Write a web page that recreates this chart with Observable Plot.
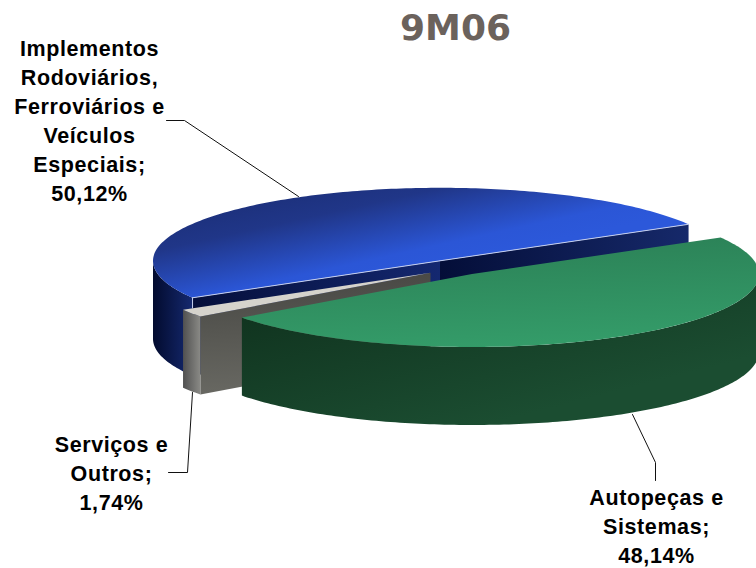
<!DOCTYPE html>
<html>
<head>
<meta charset="utf-8">
<style>html,body{margin:0;padding:0;background:#fff;overflow:hidden}svg{display:block}
g[font-family="Liberation Sans"] text{letter-spacing:.6px}</style>
<script src="https://cdn.jsdelivr.net/npm/d3@7"></script>
<script src="https://cdn.jsdelivr.net/npm/@observablehq/plot@0.6"></script>
</head>
<body>
<script>
// Values
const title = "9M06";
const categories = ["Implementos Rodoviários, Ferroviários e Veículos Especiais", "Serviços e Outros", "Autopeças e Sistemas"];
const shares = [50.12, 1.74, 48.14];
const labelLines = [
  ["Implementos", "Rodoviários,", "Ferroviários e", "Veículos", "Especiais;", "50,12%"],
  ["Serviços e", "Outros;", "1,74%"],
  ["Autopeças e", "Sistemas;", "48,14%"]
];

// Drawing layout: pie-space centres for each exploded slice
const startAngle = 30;
const radiusX = 287, radiusY = 73, depth = 78;
const centres = [[439.5, 260.3], [430, 272.3], [471.5, 273.5]];
const labelAnchors = [[89, 49], [111, 445], [656, 497.5]];
const lineHeight = 29;
const leaders = [
  [[166, 120], [184, 120], [298, 196]],
  [[168, 472], [187, 472], [192, 392]],
  [[655, 480], [655, 462], [632, 414]]
];

// Slice angles come from the shares
let acc = startAngle;
const spans = shares.map(s => { const a = acc; acc += s * 3.6; return [a, acc]; });

const pt = (i, t, dz = 0) => {
  const r = t * Math.PI / 180, [cx, cy] = centres[i];
  return [cx + radiusX * Math.cos(r), cy - radiusY * Math.sin(r) + dz];
};
const arc = (i, a, b, dz = 0) => {
  const n = Math.max(2, Math.ceil(Math.abs(b - a)));
  return d3.range(n + 1).map(k => pt(i, a + (b - a) * k / n, dz));
};
const topFace = i => [centres[i], ...arc(i, spans[i][0], spans[i][1]), centres[i]];
const wall = pts => [...pts, ...pts.slice().reverse().map(([x, y]) => [x, y + depth])];
const radial = (i, t) => wall([pt(i, t), centres[i]]);
const poly = (pts, fill) => Plot.line(pts, {x: d => d[0], y: d => d[1], fill, stroke: "none", strokeWidth: 0});
const edge = (pts, stroke, strokeWidth = 1) => Plot.line(pts, {x: d => d[0], y: d => d[1], stroke, strokeWidth});

function gradient(defs, id, stops, c) {
  const g = defs.append("linearGradient").attr("id", id)
    .attr("x1", c[0]).attr("y1", c[1]).attr("x2", c[2]).attr("y2", c[3]);
  stops.forEach(([o, col]) => g.append("stop").attr("offset", o).attr("stop-color", col));
}
const defsMark = () => {
  const defs = d3.create("svg:defs");
  gradient(defs, "blueTop", [[0, "#182a6e"], [0.45, "#203688"], [0.85, "#2b56d6"], [1, "#2c58da"]], [0, 0, 0.64, 0.6]);
  gradient(defs, "blueOuter", [[0, "#020b2e"], [1, "#15296f"]], [0, 0, 1, 0]);
  gradient(defs, "blueInnerL", [[0, "#050f3a"], [1, "#142870"]], [0, 0, 1, 0]);
  gradient(defs, "blueInnerR", [[0, "#040e38"], [1, "#16296a"]], [0, 0, 1, 0]);
  gradient(defs, "grayOuter", [[0, "#505050"], [1, "#8a8a86"]], [0, 0, 1, 0]);
  gradient(defs, "grayInner", [[0, "#464642"], [1, "#686862"]], [0, 0, 0.1, 1]);
  gradient(defs, "greenTop", [[0, "#2b8056"], [1, "#349c69"]], [0.3, 0, 0.5, 1]);
  gradient(defs, "greenWall", [[0, "#0e2e1b"], [1, "#1b4d31"]], [0, 0, 0.7, 0.8]);
  return defs.node();
};

const textMarks = labelLines.flatMap((lines, i) =>
  Plot.text(lines, {
    x: () => labelAnchors[i][0],
    y: (d, k) => labelAnchors[i][1] + k * lineHeight,
    text: d => d,
    fontFamily: "Liberation Sans",
    fontWeight: "bold",
    fontSize: 21.5,
    fill: "#000",
    textAnchor: "middle"
  })
);

const chart = Plot.plot({
  width: 756,
  height: 568,
  margin: 0,
  x: {domain: [0, 756], range: [0, 756], axis: null},
  y: {domain: [0, 568], range: [0, 568], axis: null},
  marks: [
    defsMark,
    // Implementos
    poly(wall(arc(0, 180, spans[0][1])), "url(#blueOuter)"),
    poly(radial(0, spans[0][1]), "url(#blueInnerL)"),
    poly(radial(0, spans[0][0]), "url(#blueInnerR)"),
    poly(topFace(0), "url(#blueTop)"),
    edge([pt(0, spans[0][1]), centres[0], pt(0, spans[0][0])], "#c5cfee", 1),
    edge([pt(0, spans[0][1]), pt(0, spans[0][1], 10)], "#c5cfee", 1),
    // Serviços
    poly(radial(1, spans[1][1]), "url(#grayInner)"),
    poly(wall(arc(1, spans[1][0], spans[1][1])), "url(#grayOuter)"),
    poly(topFace(1), "#d5d3cc"),
    // Autopeças
    poly(wall(arc(2, spans[2][0], 360)), "url(#greenWall)"),
    poly(topFace(2), "url(#greenTop)"),
    // Leaders
    ...leaders.map(l => edge(l, "#111", 1)),
    // Text
    Plot.text([title], {
      x: () => 455, y: () => 28, text: d => d,
      fontFamily: "DejaVu Sans", fontWeight: "bold", fontSize: 36,
      fill: "#6b625c", textAnchor: "middle"
    }),
    ...textMarks
  ]
});
chart.setAttribute("aria-label", categories.join(", "));
document.body.appendChild(chart);
</script>
</body>
</html>
